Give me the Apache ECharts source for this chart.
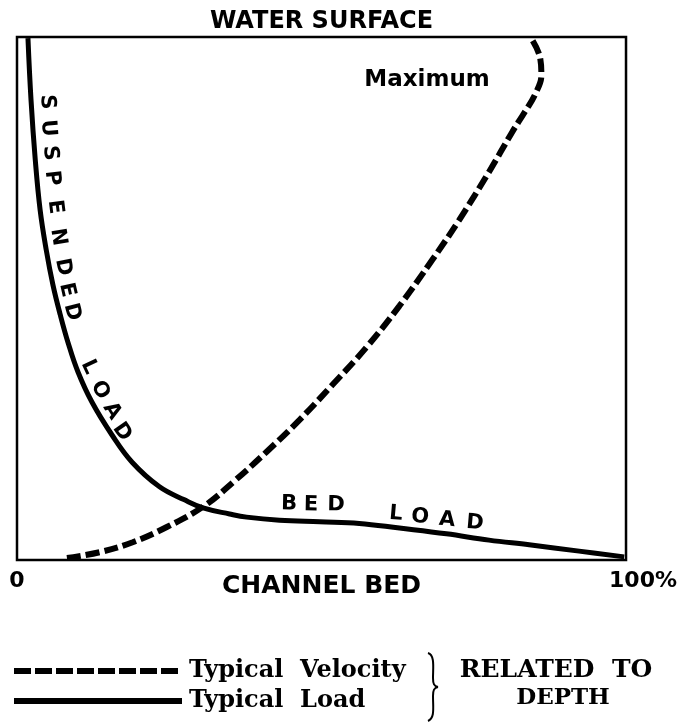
<!DOCTYPE html>
<html><head><meta charset="utf-8">
<script src="https://cdn.jsdelivr.net/npm/echarts@6/dist/echarts.min.js"></script>
<style>html,body{margin:0;padding:0;background:#fff}#c{width:680px;height:725px}</style>
</head><body><div id="c"></div>
<script>
// Horizontal value = relative magnitude (% of maximum), vertical = height above channel bed (% of depth)
const velocityMagnitude = [8.2, 13.6, 19.0, 24.6, 30.7, 35.7, 41.0, 46.4, 51.8, 57.4, 62.8, 68.2, 72.6, 77.5, 81.3, 83.4, 85.1, 86.1, 85.9, 84.4];
const velocityHeight    = [0.4, 1.5, 3.4, 6.3, 10.3, 15.1, 20.7, 26.8, 33.5, 40.7, 48.6, 57.4, 65.0, 74.2, 81.8, 85.7, 89.1, 92.7, 96.0, 99.8];
const loadMagnitude = [1.8, 2.3, 3.0, 3.8, 4.8, 5.9, 7.1, 8.4, 10.0, 12.3, 15.6, 18.9, 23.4, 27.5, 30.7, 34.9, 37.7, 43.1, 49.7, 56.2, 62.8, 70.5, 77.5, 84.1, 92.3, 99.7];
const loadHeight    = [99.8, 88.0, 76.5, 66.9, 59.3, 52.6, 46.9, 41.5, 36.0, 30.2, 23.9, 18.7, 14.0, 11.5, 9.9, 8.8, 8.2, 7.6, 7.3, 7.0, 6.1, 5.0, 3.8, 2.9, 1.7, 0.6];
const seriesNames = ['Typical Velocity', 'Typical Load'];
const axisTickValues = [0, 100];
const axisTickLabels = ['0', '100%'];
const topLabel = 'WATER SURFACE';
const bottomLabel = 'CHANNEL BED';

const zip = (a, b) => a.map((v, i) => [v, b[i]]);
const chart = echarts.init(document.getElementById('c'), null, {renderer: 'canvas'});

const SANS = 'DejaVu Sans';
const SERIF = 'DejaVu Serif';
const deg = d => d * Math.PI / 180;

function letter(t, x, y, rDeg, size) {
  return {type: 'text', x: x, y: y, rotation: deg(rDeg), z: 10,
    style: {text: t, x: 0, y: 0, align: 'center', verticalAlign: 'middle',
      font: 'bold ' + (size || 21) + 'px "' + SANS + '"', fill: '#000'}};
}
const curveLetters = [
  ['S', 47, 102, -87], ['U', 48, 128, -86], ['S', 50, 153, -85], ['P', 52, 178, -84],
  ['E', 55, 207, -83], ['N', 58, 237, -81], ['D', 63, 267, -79], ['E', 67, 290, -77], ['D', 72, 312, -75],
  ['L', 89, 367, -65], ['O', 100, 390, -62], ['A', 112, 411, -58], ['D', 122, 432, -55],
  ['B', 289, 504, -1], ['E', 311, 505, -1], ['D', 336, 505, -1],
  ['L', 396, 514, -5], ['O', 420, 517, -5], ['A', 447, 520, -5], ['D', 475, 523, -5]
];

const graphics = curveLetters.map(l => letter(l[0], l[1], l[2], l[3]));
graphics.push({type: 'text', x: 427, y: 80, z: 10, style: {text: 'Maximum', align: 'center', verticalAlign: 'middle',
  font: 'bold 23px "' + SANS + '"', fill: '#000'}});
graphics.push({type: 'text', x: 556, y: 670, z: 10, style: {text: 'RELATED  TO', align: 'center', verticalAlign: 'middle',
  font: 'bold 25px "' + SERIF + '"', fill: '#000'}});
graphics.push({type: 'text', x: 563, y: 698, z: 10, style: {text: 'DEPTH', align: 'center', verticalAlign: 'middle',
  font: 'bold 23px "' + SERIF + '"', fill: '#000'}});
const braceSegs = [
  [428, 653, 435, 655, 433, 668, 433, 678],
  [433, 678, 433, 684, 434, 686, 438, 687],
  [438, 687, 434, 688, 433, 690, 433, 696],
  [433, 696, 433, 708, 435, 718, 428, 721]
];
braceSegs.forEach(s => graphics.push({type: 'bezierCurve', z: 10,
  shape: {x1: s[0], y1: s[1], cpx1: s[2], cpy1: s[3], cpx2: s[4], cpy2: s[5], x2: s[6], y2: s[7]},
  style: {fill: null, stroke: '#000', lineWidth: 2}}));

chart.setOption({
  animation: false,
  backgroundColor: '#fff',
  grid: {left: 17, top: 37, width: 610, height: 523, show: true, borderColor: '#000', borderWidth: 2.5},
  xAxis: [{
    type: 'value', min: 0, max: 100, interval: 100,
    axisLine: {show: false}, axisTick: {show: false}, splitLine: {show: false},
    axisLabel: {show: true, margin: 10, color: '#000', fontFamily: SANS, fontWeight: 'bold', fontSize: 22,
      formatter: v => v === axisTickValues[0] ? '{a|' + axisTickLabels[0] + '}' : '{b|' + axisTickLabels[1] + '}',
      rich: {a: {fontFamily: SANS, fontWeight: 'bold', fontSize: 22, color: '#000'},
             b: {fontFamily: SANS, fontWeight: 'bold', fontSize: 22, color: '#000', padding: [0, 0, 0, 34]}}},
    name: bottomLabel, nameLocation: 'middle', nameGap: 14, nameMoveOverlap: false,
    nameTextStyle: {color: '#000', fontFamily: SANS, fontWeight: 'bold', fontSize: 25}
  }, {
    type: 'value', position: 'top', min: 0, max: 100,
    axisLine: {show: false}, axisTick: {show: false}, splitLine: {show: false}, axisLabel: {show: false},
    name: topLabel, nameLocation: 'middle', nameGap: 3, nameMoveOverlap: false,
    nameTextStyle: {color: '#000', fontFamily: SANS, fontWeight: 'bold', fontSize: 24}
  }],
  yAxis: {type: 'value', min: 0, max: 100, show: true,
    axisLine: {show: false}, axisTick: {show: false}, splitLine: {show: false}, axisLabel: {show: false}},
  legend: {
    orient: 'vertical', left: 6, top: 654, itemWidth: 168, itemHeight: 14, itemGap: 6,
    itemStyle: {opacity: 0},
    textStyle: {fontFamily: SERIF, fontWeight: 'bold', fontSize: 24, color: '#000', padding: [0, 0, 0, 2]},
    formatter: n => n.replace(' ', '  '),
    data: [
      {name: seriesNames[0], lineStyle: {color: '#000', width: 6, type: [17, 4], cap: 'butt'}},
      {name: seriesNames[1], lineStyle: {color: '#000', width: 6, type: 'solid'}}
    ]
  },
  series: [{
    name: seriesNames[0], type: 'line', xAxisIndex: 0, smooth: 0.4, symbol: 'none',
    lineStyle: {color: '#000', width: 6, type: [14, 5], cap: 'butt'},
    data: zip(velocityMagnitude, velocityHeight)
  }, {
    name: seriesNames[1], type: 'line', xAxisIndex: 0, smooth: 0.4, symbol: 'none',
    lineStyle: {color: '#000', width: 5, type: 'solid'},
    data: zip(loadMagnitude, loadHeight)
  }],
  graphic: graphics
});
</script></body></html>
